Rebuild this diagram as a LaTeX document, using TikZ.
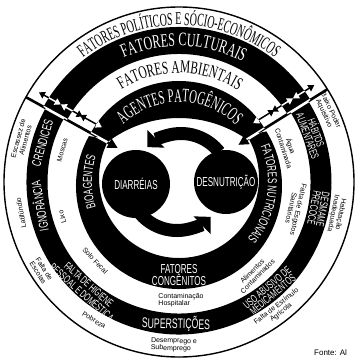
\documentclass[tikz,border=0pt]{standalone}
\usepackage{fontspec}
\usepackage{graphicx}
\usetikzlibrary{decorations.text,arrows.meta}
\newfontfamily\topserif[FakeStretch=0.63]{Liberation Serif}
\newfontfamily\polserif[FakeStretch=0.55]{Liberation Serif}
\newfontfamily\agserif[FakeStretch=0.56]{Liberation Serif}
\newfontfamily\capsfont[FakeStretch=0.62]{Liberation Sans}
\newfontfamily\smallfont{Liberation Sans}
\newcommand\bandTopOne{(32:155) arc[start angle=32,end angle=151,radius=155] -- (151:128) arc[start angle=151,end angle=32,radius=128] -- cycle}
\newcommand\bandTopThree{(32:101) arc[start angle=32,end angle=151,radius=101] -- ([shift={(0,-54.3)}]127.3:118.3) arc[start angle=127.3,end angle=54.6,radius=118.3] -- cycle}
\newcommand\bandLowOne{(151:152.5) arc[start angle=151,end angle=392,radius=152.5] -- (392:131.5) arc[start angle=392,end angle=151,radius=131.5] -- cycle}
\newcommand\bandLowThree{([shift={(0,-4)}]151:103) arc[start angle=151,end angle=392,radius=103] -- ([shift={(0,4)}]392:80) arc[start angle=392,end angle=151,radius=80] -- cycle}
\tikzset{
  caps/.style={text=white, font=\capsfont\fontsize{13}{12}\selectfont, align=center, inner sep=0pt},
  capstwo/.style={text=white, font=\capsfont\fontsize{11}{9}\selectfont, align=center, inner sep=0pt},
  small/.style={text=black, font=\smallfont\fontsize{7}{7.5}\selectfont, align=center, inner sep=0pt},
  disk/.style={circle, fill=black, inner sep=0pt, text=white, font=\capsfont\fontsize{13}{12}\selectfont},
  bigarrow/.style={line width=13pt, -{Triangle[length=12pt,width=24pt]}},
  divider/.style={line width=2.6pt},
  dbl/.style={line width=1.5pt, {Triangle[length=6pt,width=7pt]}-{Triangle[length=6pt,width=7pt]}},
}
\begin{document}
\begin{tikzpicture}[x=1pt,y=1pt]
\useasboundingbox (0,0) rectangle (358,357);
\fill[white] (0,0) rectangle (358,357);
\begin{scope}[shift={(179,175)}]
% outer circle
\draw[line width=1.4pt] (0,0) circle[radius=175];
% bands
\fill \bandTopOne;
\fill \bandTopThree;
\fill \bandLowOne;
\fill \bandLowThree;
% dividers (black)
\draw[divider, -{Triangle[length=10pt,width=10pt]}] (151:175) -- (151:70);
\draw[divider, -{Triangle[length=10pt,width=10pt]}] (32:175) -- (32:70);
\begin{scope}[shift={(61:10.5)}]
\draw[dbl] (151:141) -- (151:166);
\draw[dbl] (151:116) -- (151:141);
\draw[dbl] (151:94) -- (151:119);
\end{scope}
\begin{scope}[shift={(122:10.5)}]
\draw[dbl] (32:141) -- (32:166);
\draw[dbl] (32:116) -- (32:141);
\draw[dbl] (32:94) -- (32:119);
\end{scope}
% inverse (white) parts over black bands
\begin{scope}
\clip \bandTopOne \bandTopThree \bandLowOne \bandLowThree;
\draw[divider, white] (151:175) -- (151:75);
\draw[divider, white] (32:175) -- (32:75);
\begin{scope}[shift={(61:10.5)}]
\draw[dbl, white] (151:141) -- (151:166);
\draw[dbl, white] (151:116) -- (151:141);
\draw[dbl, white] (151:94) -- (151:119);
\end{scope}
\begin{scope}[shift={(122:10.5)}]
\draw[dbl, white] (32:141) -- (32:166);
\draw[dbl, white] (32:116) -- (32:141);
\draw[dbl, white] (32:94) -- (32:119);
\end{scope}
\end{scope}
% top arc texts
\path[decorate, decoration={text along path, text align=center, text={|\polserif\fontsize{18}{18}\selectfont|FATORES POLÍTICOS E SÓCIO-ECONÔMICOS}}] (150:157) arc[start angle=150, end angle=30, radius=157];
\path[decorate, decoration={text along path, text align=center, text color=white, text={|\topserif\fontsize{19}{19}\selectfont|FATORES CULTURAIS}}] (148:136) arc[start angle=148, end angle=28, radius=136];
\path[decorate, decoration={text along path, text align=center, text={|\topserif\fontsize{18}{18}\selectfont|FATORES AMBIENTAIS}}] (149.5:109) arc[start angle=149.5, end angle=29.5, radius=109];
\path[decorate, decoration={text along path, text align=center, text color=white, text={|\agserif\fontsize{19}{19}\selectfont|AGENTES PATOGÊNICOS}}] (149.5:80) arc[start angle=149.5, end angle=29.5, radius=80];
% outer ring labels
\node[small, rotate=74.8] (escassez) at (164.8:163) {Escassez de\\Alimentos};
\node[small, rotate=101.1] (latif) at (191.1:161) {Latifúndio};
\node[small, rotate=-57.2] (escolas) at (212.8:164) {Falta de\\Escolas};
\node[small, rotate=-31.6] (pobreza) at (238.4:162) {Pobreza};
\node[small, rotate=-1.8, align=left] (desemp) at (268.2:163) {Desemprego e\\Subemprego};
\node[small, rotate=38] (estimulo) at (308:162) {Falta de Estímulo\\Agrícola};
\node[small, rotate=-101.4] (habit) at (-11.4:161) {Habitação\\Inadequada};
\node[small, rotate=-64.7] (baixo) at (25.3:164) {Baixo Poder\\Aquisitivo};
% band 1 labels
\node[caps, rotate=74.1] (crendices) at (164.1:142) {CRENDICES};
\node[caps, rotate=99.7] (ignor) at (189.7:142) {IGNORÂNCIA};
\node[capstwo, rotate=-41.3] (higiene) at (228.7:142) {FALTA DE HIGIENE\\PESSOAL E DOMÉSTICA};
\node[caps, font=\capsfont\fontsize{14}{12}\selectfont, rotate=-1.2] (superst) at (268.8:142) {SUPERSTIÇÕES};
\node[capstwo, rotate=39.8] (uso) at (-50.2:142) {USO ABUSIVO DE\\MEDICAMENTOS};
\node[capstwo, rotate=-100.8] (desmame) at (-10.8:142) {DESMAME\\PRECOCE};
\node[capstwo, rotate=-70.3] (habitos) at (19.7:142) {HÁBITOS\\ALIMENTARES};
% band 2 labels
\node[small, rotate=74.7] (moscas) at (164.7:121) {Moscas};
\node[small, rotate=106.7] (lixo) at (196.7:122) {Lixo};
\node[small, rotate=-46.8] (solo) at (223.2:115) {Solo Fecal};
\node[small, align=left] (contam) at (271:118) {Contaminação\\Hospitalar};
\node[small, rotate=45] (alim) at (-50.4:119) {Alimentos\\Contaminados};
\node[small, rotate=-103.1] (esgotos) at (-13.1:119) {Falta de Esgotos\\Sanitários};
\node[small, rotate=-72.2] (agua) at (17.8:114) {Água\\Contaminada};
% band 3 labels
\path[decorate, decoration={text along path, text align=center, text color=white, text={|\capsfont\fontsize{13}{13}\selectfont|BIOAGENTES}}] (205:87) arc[start angle=205, end angle=155, radius=87];
\path[decorate, decoration={text along path, text align=center, text color=white, text={|\capsfont\fontsize{13}{13}\selectfont|FATORES NUTRICIONAIS}}] (32:89) arc[start angle=32, end angle=-48, radius=89];
\node[caps, font=\capsfont\fontsize{13}{10.5}\selectfont] (congen) at (270:93) {FATORES\\CONGÊNITOS};
% inner cycle
\draw[bigarrow] ([shift={(2,0)}]38:48.5) arc[start angle=38,end angle=134,radius=48.5];
\draw[bigarrow] ([shift={(-2,0)}]218:48.5) arc[start angle=218,end angle=314,radius=48.5];
\node[disk, minimum size=68pt] (diar) at (-43,-2) {DIARRÉIAS};
\node[disk, minimum size=64pt] (desn) at (47,0) {DESNUTRIÇÃO};
\end{scope}
\node[font=\smallfont\fontsize{8}{8}\selectfont, anchor=base west, inner sep=0pt] (fonte) at (314,2) {Fonte: Al};
\end{tikzpicture}
\end{document}
